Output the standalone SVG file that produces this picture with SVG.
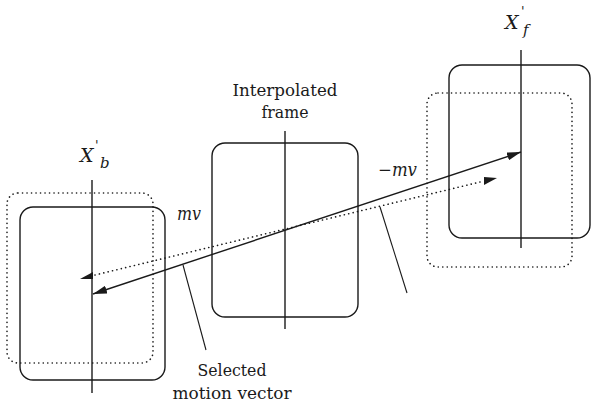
<svg xmlns="http://www.w3.org/2000/svg" width="591" height="406" viewBox="0 0 591 406">
  <style>
    .frame { fill: none; stroke: #1a1a1a; stroke-width: 1.4; }
    .shift { fill: none; stroke: #1a1a1a; stroke-width: 1.6; stroke-dasharray: 0.1 4.4; stroke-linecap: round; }
    .axis { stroke: #1a1a1a; stroke-width: 1.4; }
    .lead { stroke: #1a1a1a; stroke-width: 1.1; }
    .mv { stroke: #1a1a1a; stroke-width: 1.4; fill: none; }
    .mvd { stroke: #1a1a1a; stroke-width: 1.6; fill: none; stroke-dasharray: 0.1 4.4; stroke-linecap: round; }
    text { font-family: "DejaVu Serif", serif; fill: #1a1a1a; }
    .lbl { font-size: 17px; }
    .it { font-style: italic; }
  </style>
  <defs>
    <marker id="head" viewBox="0 0 14 8" refX="14" refY="4" markerWidth="14" markerHeight="8" markerUnits="userSpaceOnUse" orient="auto-start-reverse">
      <path d="M0,0 L14,4 L0,8 Z" fill="#1a1a1a"/>
    </marker>
  </defs>
  <rect width="591" height="406" fill="#ffffff"/>

  <!-- backward frame X'b -->
  <g id="frame-b">
    <rect class="shift" x="7" y="193" width="146" height="170" rx="11"/>
    <rect class="frame" x="20" y="207" width="145" height="173" rx="13"/>
    <line class="axis" x1="92" y1="180" x2="92" y2="393"/>
    <text class="it" x="80" y="162" font-size="19">X</text>
    <text class="it" x="100" y="168" font-size="15">b</text>
    <text class="it" x="95" y="150" font-size="13">'</text>
  </g>

  <!-- interpolated frame -->
  <g id="frame-i">
    <rect class="frame" x="212" y="143" width="146" height="174" rx="13"/>
    <line class="axis" x1="285" y1="131" x2="285" y2="329"/>
    <text class="lbl" x="285" y="96" text-anchor="middle" textLength="105" lengthAdjust="spacingAndGlyphs">Interpolated</text>
    <text class="lbl" x="285" y="118" text-anchor="middle" textLength="47" lengthAdjust="spacingAndGlyphs">frame</text>
  </g>

  <!-- forward frame X'f -->
  <g id="frame-f">
    <rect class="shift" x="427" y="93" width="145" height="174" rx="11"/>
    <rect class="frame" x="449" y="65" width="141" height="173" rx="13"/>
    <line class="axis" x1="521" y1="50" x2="521" y2="248"/>
    <text class="it" x="505" y="29" font-size="19">X</text>
    <text class="it" x="523" y="35" font-size="15">f</text>
    <text class="it" x="521" y="16" font-size="13">'</text>
  </g>

  <!-- motion vectors and leader lines -->
  <g id="connectors">
    <line class="mv" x1="93" y1="294" x2="521" y2="152" marker-start="url(#head)" marker-end="url(#head)"/>
    <line class="mvd" x1="95" y1="275" x2="480" y2="182"/>
    <path d="M80,279 L93,272 L93,279 Z" fill="#1a1a1a"/>
    <path d="M497,178 L484,185 L484,177 Z" fill="#1a1a1a"/>
    <line class="lead" x1="183" y1="265" x2="206" y2="350"/>
    <line class="lead" x1="380" y1="207" x2="407" y2="293"/>
  </g>

  <!-- labels -->
  <g id="labels">
    <text class="it" x="177" y="220" font-size="18" textLength="24" lengthAdjust="spacingAndGlyphs">mv</text>
    <text class="it" x="378" y="176" font-size="18" textLength="39" lengthAdjust="spacingAndGlyphs">−mv</text>
    <text class="lbl" x="232" y="376" text-anchor="middle" textLength="69" lengthAdjust="spacingAndGlyphs">Selected</text>
    <text class="lbl" x="232" y="399" text-anchor="middle" textLength="119" lengthAdjust="spacingAndGlyphs">motion vector</text>
  </g>
</svg>
